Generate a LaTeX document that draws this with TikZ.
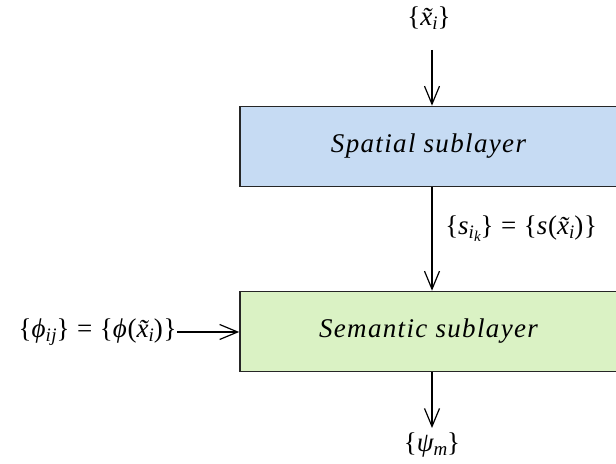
\documentclass[tikz,border=0pt]{standalone}
\usepackage{fontspec}
\setmainfont{Liberation Serif}
\newfontfamily\spacedfont[LetterSpace=5]{Liberation Serif}
\newfontfamily\labelfont[LetterSpace=3]{Liberation Serif}
\usetikzlibrary{arrows.meta}
\definecolor{spatialblue}{RGB}{198,219,243}
\definecolor{semanticgreen}{RGB}{218,242,196}
\newcommand{\sub}[1]{\raisebox{-0.3ex}{\fontsize{9.5}{10}\selectfont #1}}
\newcommand{\subsub}[1]{\raisebox{-0.3ex}{\fontsize{7.5}{8}\selectfont #1}}
\newcommand{\xt}{\~{x}}
\newcommand{\eqs}{\;=\;}
\tikzset{
  sublayer/.style={draw=black!85,line width=0.8pt,minimum width=188.5pt,minimum height=40pt,inner sep=0pt,font=\fontsize{13.5}{16}\spacedfont\itshape},
  flow/.style={line width=0.6pt,-{Straight Barb[length=9pt,width=7.5pt]}}
}
\begin{document}
\begin{tikzpicture}[x=0.5pt,y=0.5pt,font=\fontsize{13.5}{16}\labelfont]
\useasboundingbox (0,0) rectangle (616,464);
\node[sublayer,fill=spatialblue] (spatial) at (428.5,317.5) {Spatial sublayer};
\node[sublayer,fill=semanticgreen] (semantic) at (428.5,132.5) {Semantic sublayer};
\node (xin) at (429,446) {\{\textit{\xt\sub{i}}\}};
\coordinate (top) at (432,414);
\coordinate (bot) at (432,36);
\coordinate (left) at (177,132);
\node (psi) at (432,19) {\{\textit{ψ\sub{m}}\}};
\node[anchor=east,inner sep=0pt] (phi) at (left) {\{\textit{ϕ\sub{ij}}\}\eqs\{\textit{ϕ}(\textit{\xt\sub{i}})\}};
\draw[flow] (top) -- (top |- spatial.north);
\draw[flow] (spatial.south -| top) -- node[right,xshift=3pt,pos=0.4]{\{\textit{s\sub{i\subsub{k}}}\}\eqs\{\textit{s}(\textit{\xt\sub{i}})\}} (semantic.north -| top);
\draw[flow] (left) -- (semantic.west |- left);
\draw[flow] (semantic.south -| top) -- (bot);
\end{tikzpicture}
\end{document}
